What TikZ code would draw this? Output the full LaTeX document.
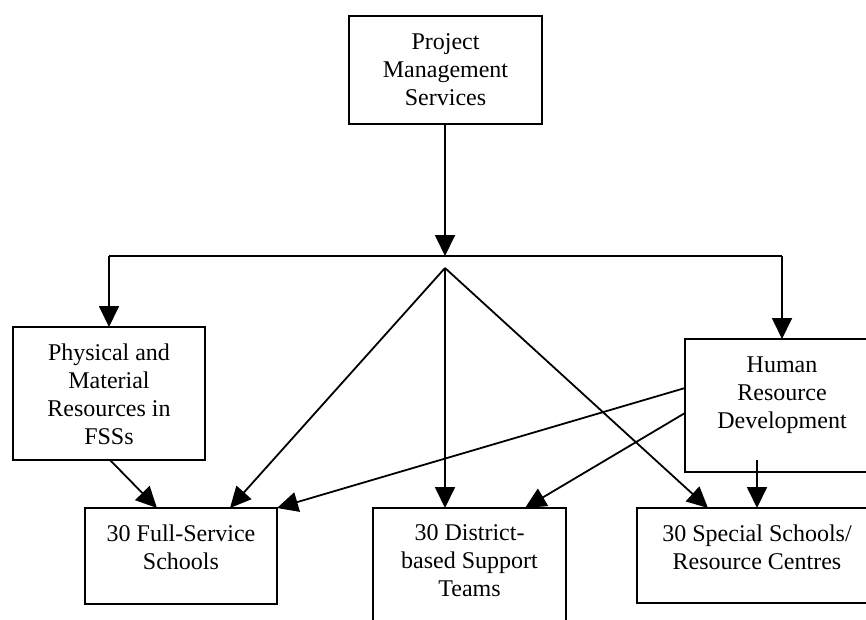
\documentclass[tikz,border=0pt]{standalone}
\usepackage{fontspec}
\setmainfont{Liberation Serif}
\usetikzlibrary{arrows.meta}
\begin{document}
\begin{tikzpicture}[x=1pt,y=-1pt,
  boxnode/.style={draw, line width=1.8pt, inner sep=0pt, outer sep=0pt, rectangle},
  lbl/.style={anchor=north, align=center, inner sep=0pt, font=\fontsize{24}{28}\selectfont},
  ln/.style={line width=1.8pt},
  arr/.style={line width=1.8pt, -{Triangle[length=21pt,width=20pt]}}
]
\useasboundingbox (0,0) rectangle (866,619);
\clip (0,0) rectangle (866,619);

% boxes
\node[boxnode, minimum width=193pt, minimum height=108pt] (pms) at (445.5,70) {};
\node[boxnode, minimum width=192pt, minimum height=133pt] (pmr) at (109,393.5) {};
\node[boxnode, minimum width=194pt, minimum height=133pt] (hrd) at (782,405.5) {};
\node[boxnode, minimum width=192pt, minimum height=96pt] (fss) at (181,556) {};
\node[boxnode, minimum width=193pt, minimum height=133pt] (dst) at (469.5,574.5) {};
\node[boxnode, minimum width=240pt, minimum height=95pt] (ssr) at (757,555.5) {};

% labels
\node[lbl] (pmst) at ([yshift=-17pt]pms.north) {Project\\Management\\Services};
\node[lbl] (pmrt) at ([yshift=-17pt]pmr.north) {Physical and\\Material\\Resources in\\FSSs};
\node[lbl] (hrdt) at ([yshift=-18pt]hrd.north) {Human\\Resource\\Development};
\node[lbl] (fsst) at ([yshift=-16.5pt]fss.north) {30 Full-Service\\Schools};
\node[lbl] (dstt) at ([yshift=-16.5pt]dst.north) {30 District-\\based Support\\Teams};
\node[lbl] (ssrt) at ([yshift=-16.5pt]ssr.north) {30 Special Schools/\\Resource Centres};

% connector points
\coordinate (junc) at (445,256);
\coordinate (lc) at (109,256);
\coordinate (rc) at (782,256);
\coordinate (apex) at (445,268);
\coordinate (hrdlow) at (757,460);

\draw[arr] (pms.south -| junc) -- (junc);
\draw[ln] (lc) -- (rc);
\draw[arr] (lc) -- (pmr.north);
\draw[arr] (rc) -- (hrd.north);

\draw[arr] (apex) -- ([xshift=49pt]fss.north);
\draw[arr] (apex) -- ([xshift=-24.5pt]dst.north);
\draw[arr] (apex) -- ([xshift=-49pt]ssr.north);

\draw[arr] ([xshift=1pt]pmr.south) -- ([xshift=-24pt]fss.north);
\draw[arr] ([yshift=17.5pt]hrd.west) -- (fss.north east);
\draw[arr] ([yshift=-7.5pt]hrd.west) -- ([xshift=55.5pt]dst.north);
\draw[arr] (hrdlow) -- (ssr.north);
\end{tikzpicture}
\end{document}
